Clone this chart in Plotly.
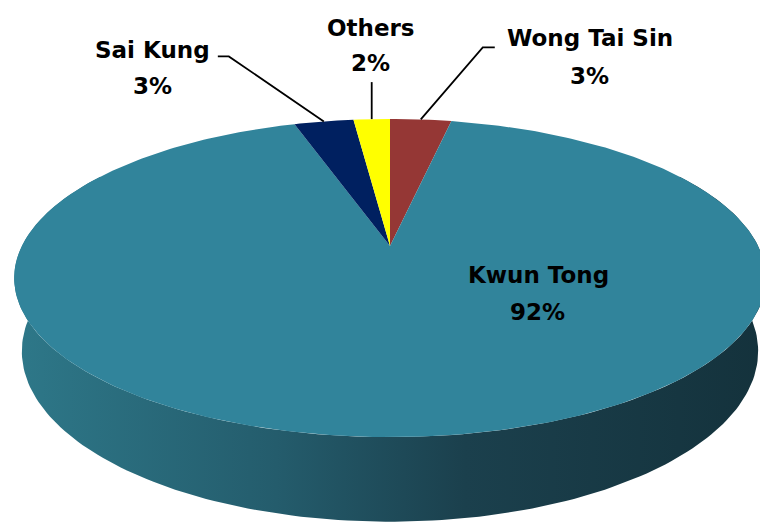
import numpy as np
import plotly.graph_objects as go

# ---- data ----
names = ["Wong Tai Sin", "Kwun Tong", "Sai Kung", "Others"]
values = [3.2, 91.8, 3.1, 1.9]
colors = ["#953735", "#31849B", "#002060", "#FFFF00"]

# ---- 3D pie geometry (style) ----
TILT = np.radians(24.5)
DIST = 4.52
FOCAL = 1664.0
DEPTH = 0.218
S, C = np.sin(TILT), np.cos(TILT)


def project(phi, r=1.0, h=0.0):
    u = r * np.sin(phi)
    v = r * np.cos(phi)
    xc = u
    yc = v * S + h * C
    zc = DIST + v * C - h * S
    return FOCAL * xc / zc, FOCAL * yc / zc


fig = go.Figure()

# side wall (front)
ph = np.radians(np.linspace(60, 300, 200))
tx, ty = project(ph, 1.0, 0.0)
bx, by = project(ph[::-1], 1.0, -DEPTH)
fig.add_trace(go.Scatter(
    x=np.concatenate([tx, bx]), y=np.concatenate([ty, by]),
    mode="lines", line=dict(width=0), fill="toself",
    fillgradient=dict(type="horizontal", colorscale=[
        [0.0, "rgb(46,120,137)"], [0.35, "rgb(36,92,108)"],
        [0.6, "rgb(27,64,77)"], [1.0, "rgb(20,50,60)"]]),
    hoverinfo="skip", showlegend=False))

# top face slices
total = sum(values)
fracs = [v / total for v in values]
start = 0.0
mids = []
for name, f, col in zip(names, fracs, colors):
    a0, a1 = 2 * np.pi * start, 2 * np.pi * (start + f)
    n = max(8, int(400 * f))
    phs = np.linspace(a0, a1, n)
    ax_, ay_ = project(phs)
    fig.add_trace(go.Scatter(
        x=np.concatenate([[0], ax_, [0]]), y=np.concatenate([[0], ay_, [0]]),
        mode="lines", line=dict(width=0), fill="toself", fillcolor=col,
        hoverinfo="skip", showlegend=False, name=name))
    mids.append((a0 + a1) / 2)
    start += f

# labels: leader path offsets (px) from slice edge, and text offsets
label_cfg = {
    "Wong Tai Sin": dict(path=[(62, 72), (74, 72)], name=(169, 81), pct=(169, 43)),
    "Sai Kung": dict(path=[(-95, 65), (-106, 65)], name=(-171, 71), pct=(-171, 35)),
    "Others": dict(path=[(0, 37)], name=(-1, 91), pct=(-1, 56)),
}
FONT = dict(family="DejaVu Sans", size=23, color="black")
annotations = []
for name, f, mid in zip(names, fracs, mids):
    pct = f"{round(f * 100):.0f}%"
    if name in label_cfg:
        cfg = label_cfg[name]
        ex, ey = project(mid, 1.0, 0.0)
        xs = [ex] + [ex + dx for dx, dy in cfg["path"]]
        ys = [ey] + [ey + dy for dx, dy in cfg["path"]]
        fig.add_trace(go.Scatter(x=xs, y=ys, mode="lines",
                                 line=dict(color="black", width=1.8),
                                 hoverinfo="skip", showlegend=False))
        nx, ny = ex + cfg["name"][0], ey + cfg["name"][1]
        px, py = ex + cfg["pct"][0], ey + cfg["pct"][1]
    else:
        nx, ny = 148, -29
        px, py = 147, -66
    annotations.append(dict(x=nx, y=ny, text=f"<b>{name}</b>", showarrow=False,
                            font=FONT, xanchor="center", yanchor="middle"))
    annotations.append(dict(x=px, y=py, text=f"<b>{pct}</b>", showarrow=False,
                            font=FONT, xanchor="center", yanchor="middle"))

fig.update_layout(
    width=760, height=525,
    margin=dict(l=0, r=0, t=0, b=0),
    paper_bgcolor="white", plot_bgcolor="white",
    xaxis=dict(range=[-390, 370], visible=False, fixedrange=True),
    yaxis=dict(range=[-279, 246], visible=False, fixedrange=True),
    annotations=annotations,
    showlegend=False,
)

fig.write_html("out.html", post_script="document.body.style.margin='0';",
               config={"displayModeBar": False})
